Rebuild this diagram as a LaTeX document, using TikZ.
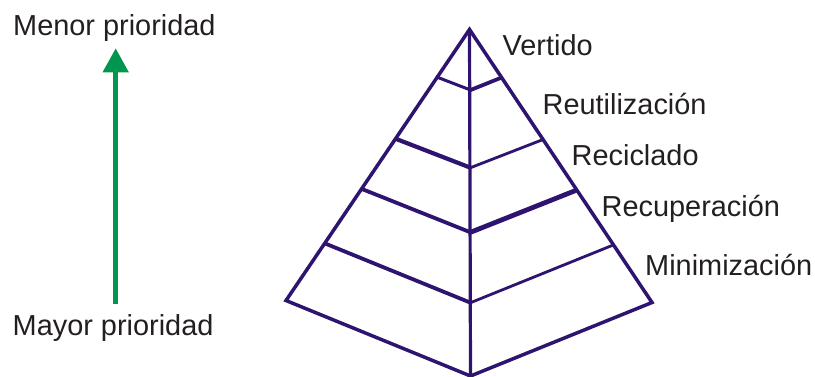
\documentclass[tikz,border=0pt]{standalone}
\usepackage{fontspec}
\setmainfont{Liberation Sans}
\usetikzlibrary{arrows.meta,calc}
\definecolor{pyrline}{RGB}{46,20,110}
\definecolor{prioarrow}{RGB}{0,150,80}
\definecolor{labeltext}{RGB}{35,31,32}
\begin{document}
\begin{tikzpicture}[x=1pt,y=-1pt,
  lbl/.style={anchor=base west,inner sep=0pt,text=labeltext,
    font=\fontsize{28.9}{34}\selectfont},
  edge/.style={draw=pyrline,line width=3.5pt,line join=miter},
  band/.style={draw=pyrline,line width=#1,line cap=butt},
  band/.default=3pt]
\useasboundingbox (0,0) rectangle (815,376);

% pyramid corners
\coordinate (A) at (469.5,29.5);
\coordinate (L) at (286,300.5);
\coordinate (R) at (652,302.5);
\coordinate (B) at (470.5,376);

% level points on the two slanted edges and on the axis
\foreach \i/\f in {1/0.176,2/0.403,3/0.588,4/0.789}{
  \coordinate (l\i) at ($(A)!\f!(L)$);
  \coordinate (r\i) at ($(A)!\f!(R)$);
}
\coordinate (c1) at (470.5,90);
\coordinate (c2) at (470.5,167.7);
\coordinate (c3) at (470.5,232.3);
\coordinate (c4) at (470.5,302.7);

% level lines
\draw[band=3pt]   (l1) -- (c1);
\draw[band=3.8pt] (c1) -- (r1);
\draw[band=4.2pt] (l2) -- (c2);
\draw[band=2.8pt] (c2) -- (r2);
\draw[band=3.8pt] (l3) -- (c3);
\draw[band=4.8pt] (c3) -- (r3);
\draw[band=3.8pt] (l4) -- (c4);
\draw[band=2.8pt] (c4) -- (r4);

% axis and outline
\draw[band=3.2pt] (A) -- (B);
\draw[edge] (A) -- (R) -- (B) -- (L) -- cycle;

% level labels
\node[lbl] (vert) at (502.5,55.7) {Vertido};
\node[lbl] (reut) at (542.5,114.3) {Reutilización};
\node[lbl] (reci) at (571.5,165) {Reciclado};
\node[lbl] (recu) at (601.5,216) {Recuperación};
\node[lbl] (mini) at (645,275) {Minimización};

% priority scale
\node[lbl] (menor) at (13,35) {Menor prioridad};
\node[lbl] (mayor) at (12.5,335) {Mayor prioridad};
\coordinate (arrbot) at (115.7,304);
\coordinate (arrtop) at (115.7,48.3);
\draw[prioarrow,line width=4.7pt,
  -{Triangle[width=25pt,length=24pt]}] (arrbot) -- (arrtop);
\end{tikzpicture}
\end{document}
